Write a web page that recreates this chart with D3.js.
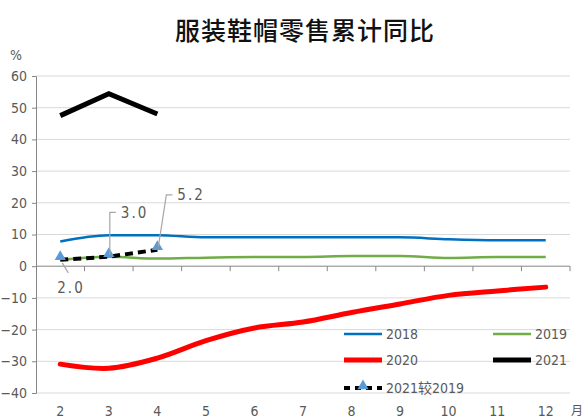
<!DOCTYPE html>
<html><head><meta charset="utf-8">
<script src="https://cdn.jsdelivr.net/npm/d3@7"></script>
<style>
body{margin:0;background:#fff;}
svg{display:block;}
.num{font-family:'DejaVu Sans Condensed','Liberation Sans Narrow',sans-serif;fill:#595959;}
</style></head>
<body><svg id="c" width="582" height="420"></svg>
<script>
const months = ["2","3","4","5","6","7","8","9","10","11","12"];
const s2018 = [7.8, 9.8, 9.8, 9.1, 9.1, 9.1, 9.1, 9.1, 8.5, 8.2, 8.2];
const s2019 = [2.0, 3.0, 2.4, 2.7, 2.9, 2.9, 3.2, 3.2, 2.6, 2.9, 2.9];
const s2020 = [-30.9, -32.2, -29.0, -23.5, -19.5, -17.6, -14.6, -11.9, -9.2, -7.8, -6.6];
const s2021 = [47.5, 54.4, 48.0];
const s2021vs2019 = [2.0, 3.0, 5.2];
const yTicks = [-40, -30, -20, -10, 0, 10, 20, 30, 40, 50, 60];
const labels = ["2.0", "3.0", "5.2"];

const svg = d3.select("#c");
const x = d3.scaleBand().domain(months).range([36, 570]).padding(0);
const cx = m => x(m) + x.bandwidth()/2;
const y = d3.scaleLinear().domain([-40, 60]).range([393, 76]);

// title
svg.append("text").attr("x", 305).attr("y", 40).attr("text-anchor","middle")
  .style("font-family","'Noto Sans CJK SC',sans-serif").style("font-size","25px").style("font-weight","500")
  .attr("fill","#111").attr("letter-spacing","1").text("服装鞋帽零售累计同比");

// gridlines
svg.append("g").selectAll("line").data(yTicks.filter(d=>d!==0)).join("line")
  .attr("x1",36).attr("x2",570).attr("y1",d=>y(d)).attr("y2",d=>y(d))
  .attr("stroke","#d9d9d9").attr("stroke-width",1);

// y axis
const ya = svg.append("g").attr("transform","translate(36,0)")
  .call(d3.axisLeft(y).tickValues(yTicks).tickSize(4).tickPadding(5));
ya.select(".domain").attr("stroke","#868686");
ya.selectAll(".tick line").attr("stroke","#868686");
ya.selectAll(".tick text").attr("class","num").style("font-size","14px");

// x axis at 0
const xg = svg.append("g");
xg.append("line").attr("x1",36).attr("x2",570).attr("y1",y(0)).attr("y2",y(0)).attr("stroke","#868686").attr("stroke-width",1);
xg.selectAll("line.t").data(months.slice(1).concat(["end"])).join("line").attr("class","t")
  .attr("x1",(d,i)=> i<months.length-1 ? x(d) : 570).attr("x2",(d,i)=> i<months.length-1 ? x(d) : 570)
  .attr("y1",y(0)).attr("y2",y(0)+5).attr("stroke","#868686");
xg.selectAll("text").data(months).join("text").attr("class","num")
  .attr("x",d=>cx(d)).attr("y",416).attr("text-anchor","middle").style("font-size","14px").text(d=>d);

svg.append("text").attr("x",10).attr("y",60).attr("class","num").style("font-size","14px").text("%");
svg.append("text").attr("x",571).attr("y",415).style("font-family","'Noto Sans CJK SC',sans-serif")
  .style("font-size","12px").attr("fill","#595959").text("月");

function line(data, curve){
  return d3.line().x((d,i)=>cx(months[i])).y(d=>y(d)).curve(curve)(data);
}
const smooth = d3.curveMonotoneX;
svg.append("path").attr("d",line(s2019,smooth)).attr("fill","none").attr("stroke","#70AD47").attr("stroke-width",2.5);
svg.append("path").attr("d",line(s2018,smooth)).attr("fill","none").attr("stroke","#0070C0").attr("stroke-width",2.5);
svg.append("path").attr("d",line(s2020,d3.curveCatmullRom.alpha(0.5))).attr("fill","none").attr("stroke","#FF0000").attr("stroke-width",5).attr("stroke-linecap","round");
svg.append("path").attr("d",line(s2021,d3.curveLinear)).attr("fill","none").attr("stroke","#000").attr("stroke-width",5);
svg.append("path").attr("d",line(s2021vs2019,d3.curveLinear)).attr("fill","none").attr("stroke","#000")
  .attr("stroke-width",4).attr("stroke-dasharray","8,5");

const tri = d3.symbol().type(d3.symbolTriangle).size(55);
svg.selectAll("path.tri").data(s2021vs2019).join("path").attr("class","tri")
  .attr("d",tri).attr("transform",(d,i)=>`translate(${cx(months[i])},${y(d)-3})`).attr("fill","#5B9BD5");

// data labels with leader lines
const lab = svg.append("g");
const lp = [
  {pts:[[cx("2")+2,y(2.0)+3],[cx("2")+8,y(2.0)+13]], tx:cx("2")-3, ty:y(-8.5)},
  {pts:[[cx("3")+1,y(3.0)-2],[cx("3")+1,y(17)],[cx("3")+7,y(17)]], tx:cx("3")+12, ty:y(15.3)},
  {pts:[[cx("4")+1,y(5.2)-3],[cx("4")+9,y(22.5)],[cx("4")+15,y(22.5)]], tx:cx("4")+20, ty:y(20.8)}
];
lp.forEach((p,i)=>{
  lab.append("path").attr("d",d3.line()(p.pts)).attr("fill","none").attr("stroke","#a6a6a6").attr("stroke-width",1.2);
  lab.append("text").attr("x",p.tx).attr("y",p.ty).attr("class","num").attr("fill","#404040")
    .style("font-size","15px").attr("letter-spacing","2").text(labels[i]);
});

// legend
const leg = svg.append("g");
const items = [
  {n:"2018",c:"#0070C0",w:2.5,x:344,y:334},
  {n:"2019",c:"#70AD47",w:2.5,x:493,y:334},
  {n:"2020",c:"#FF0000",w:5,x:344,y:360},
  {n:"2021",c:"#000",w:5,x:493,y:360},
  {n:"2021较2019",c:"#000",w:4,x:344,y:388,dash:true}
];
items.forEach(it=>{
  leg.append("line").attr("x1",it.x).attr("x2",it.x+38).attr("y1",it.y).attr("y2",it.y)
    .attr("stroke",it.c).attr("stroke-width",it.w).attr("stroke-dasharray",it.dash?"6,5":null);
  if(it.dash) leg.append("path").attr("d",tri).attr("transform",`translate(${it.x+19},${it.y-2})`).attr("fill","#5B9BD5");
  leg.append("text").attr("x",it.x+42).attr("y",it.y+5).attr("class","num").style("font-size","14px")
    .style("font-family","'DejaVu Sans Condensed','Noto Sans CJK SC',sans-serif").text(it.n);
});
</script></body></html>
